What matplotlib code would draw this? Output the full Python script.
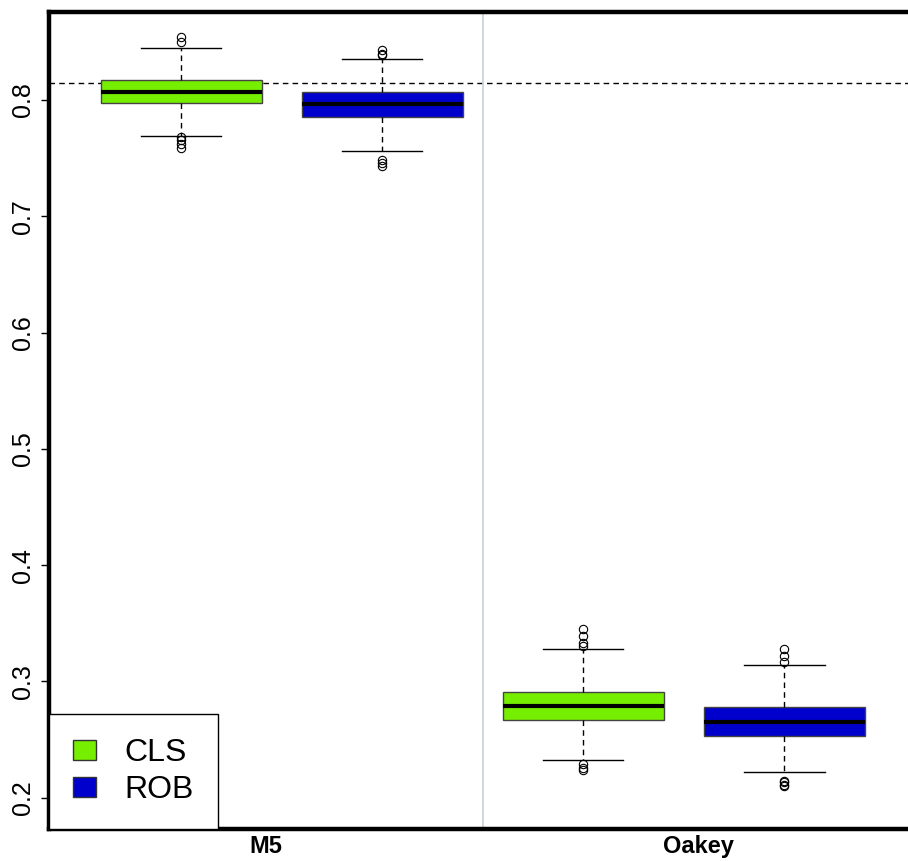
import matplotlib.pyplot as plt
from matplotlib.patches import Patch

# values
groups = ['M5', 'Oakey']
methods = ['CLS', 'ROB']
colors = ['#76EE00', '#0000CD']

q1 = [0.7977, 0.7857, 0.2667, 0.2527]
med = [0.8072, 0.7968, 0.2784, 0.2649]
q3 = [0.8172, 0.8069, 0.2912, 0.2776]
whislo = [0.7693, 0.7562, 0.2322, 0.2219]
whishi = [0.8450, 0.8355, 0.3279, 0.3142]
fliers = [
    [0.854, 0.850, 0.7685, 0.7656, 0.7622, 0.7590],
    [0.843, 0.840, 0.8387, 0.7484, 0.7455, 0.7435],
    [0.3451, 0.3391, 0.3328, 0.3300, 0.2288, 0.2254, 0.2234],
    [0.3279, 0.3222, 0.3165, 0.2145, 0.2130, 0.2110, 0.2096],
]
ref_line = 0.8143

stats = []
for i in range(4):
    stats.append({'q1': q1[i], 'med': med[i], 'q3': q3[i],
                  'whislo': whislo[i], 'whishi': whishi[i],
                  'fliers': fliers[i]})

fig = plt.figure(figsize=(9.08, 8.61), dpi=100)
ax = fig.add_axes([49 / 908, 32 / 861, 866 / 908, 817 / 861])

pos = [1, 2, 3, 4]
bp = ax.bxp(stats, positions=pos, widths=0.8, patch_artist=True,
            boxprops=dict(edgecolor='#444444', linewidth=1),
            medianprops=dict(color='black', linewidth=3),
            whiskerprops=dict(color='black', linestyle=(0, (4, 3)), linewidth=1),
            capprops=dict(color='black', linewidth=1),
            capwidths=0.4,
            flierprops=dict(marker='o', markerfacecolor='none',
                            markeredgecolor='black', markersize=6,
                            markeredgewidth=0.8))
for i, b in enumerate(bp['boxes']):
    b.set_facecolor(colors[i % 2])

ax.axhline(ref_line, color='black', linestyle=(0, (4, 3)), linewidth=1, zorder=0)
ax.axvline(2.5, color='#c8d0d4', linewidth=1.2, zorder=0)

ax.set_xlim(0.343, 4.65)
ax.set_ylim(0.173, 0.8757)

ax.set_yticks([0.2, 0.3, 0.4, 0.5, 0.6, 0.7, 0.8])
ax.set_yticklabels(['0.2', '0.3', '0.4', '0.5', '0.6', '0.7', '0.8'],
                   rotation=90, va='center', fontsize=18, family='Liberation Sans')
ax.set_xticks([1.42, 3.575])
ax.set_xticklabels(groups, fontsize=17, fontweight='bold', family='Liberation Sans')
ax.tick_params(axis='x', length=0, pad=4)
ax.tick_params(axis='y', length=6, width=1, pad=4)

for s in ['left', 'top', 'bottom', 'right']:
    ax.spines[s].set_linewidth(3.2)
    ax.spines[s].set_color('black')

handles = [Patch(facecolor=c, edgecolor='#333333', label=m) for c, m in zip(colors, methods)]
leg = ax.legend(handles=handles, loc='lower left', bbox_to_anchor=(0, 0),
                borderaxespad=0, fancybox=False, framealpha=1, edgecolor='black',
                prop={'family': 'Liberation Sans', 'size': 23},
                handlelength=0.72, handleheight=0.6, handletextpad=0.9,
                borderpad=0.75, labelspacing=0.22)
leg.get_frame().set_linewidth(1)

plt.savefig('out.png', dpi=100)
